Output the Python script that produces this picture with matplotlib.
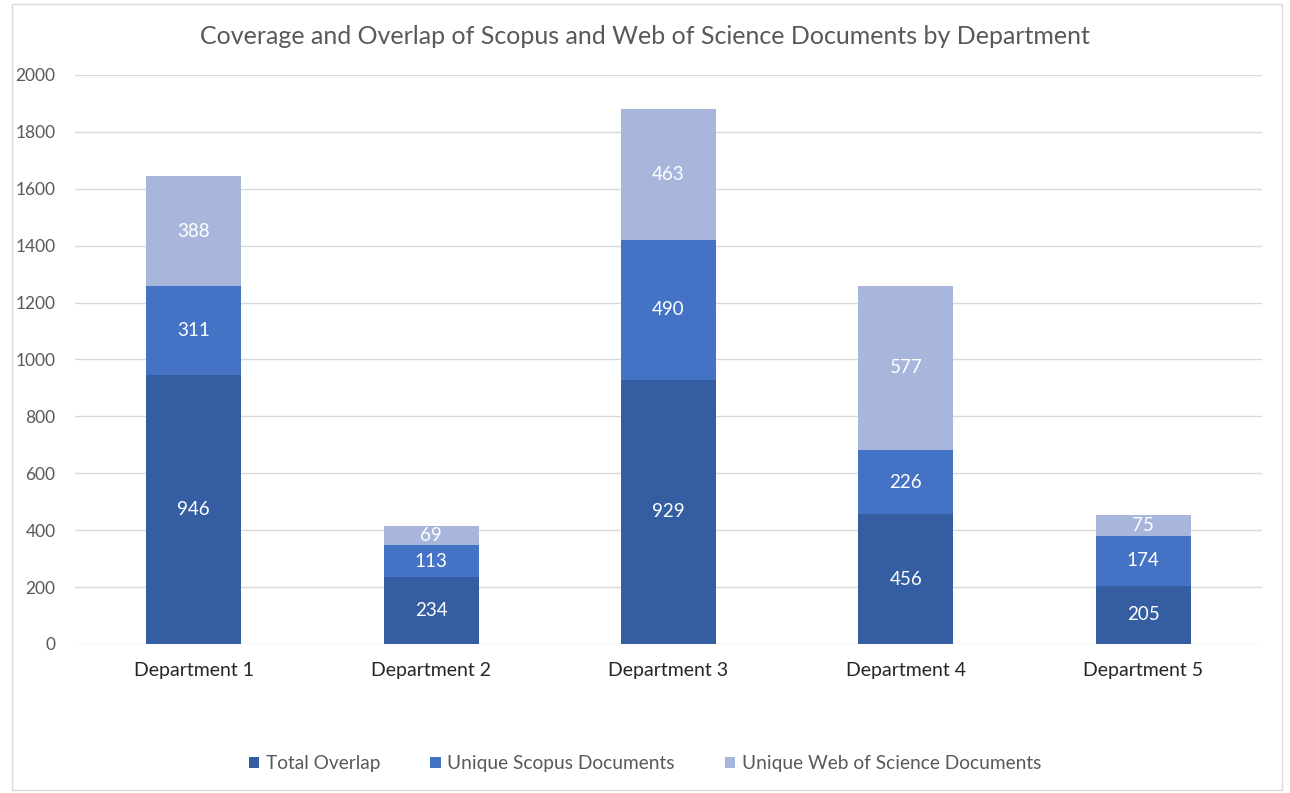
import matplotlib
matplotlib.use("Agg")
import matplotlib.pyplot as plt
from matplotlib.patches import Rectangle
import numpy as np

departments = ["Department 1", "Department 2", "Department 3", "Department 4", "Department 5"]
total_overlap = [946, 234, 929, 456, 205]
unique_scopus = [311, 113, 490, 226, 174]
unique_wos = [388, 69, 463, 577, 75]
series_names = ["Total Overlap", "Unique Scopus Documents", "Unique Web of Science Documents"]
colors = ["#355EA2", "#4472C4", "#A8B6DB"]

plt.rcParams['font.family'] = ['Lato', 'DejaVu Sans']

fig = plt.figure(figsize=(12.9, 7.93), dpi=100)
ax = fig.add_axes([75/1290, 1-644/793, (1262-75)/1290, (644-75)/793])

# outer chart border
fig.patches.append(Rectangle((12/1290, 3/793), (1282-12)/1290, (789-3)/793,
                             transform=fig.transFigure, fill=False,
                             edgecolor="#D9D9D9", linewidth=1))

x = np.arange(len(departments))
w = 0.4
bottom = np.zeros(len(departments))
for vals, name, c in zip([total_overlap, unique_scopus, unique_wos], series_names, colors):
    bars = ax.bar(x, vals, w, bottom=bottom, color=c, label=name, zorder=3)
    for xi, b, v in zip(x, bottom, vals):
        ax.text(xi, b + v/2, str(v), ha="center", va="center", color="white",
                fontsize=13.5, zorder=4)
    bottom += np.array(vals)

ax.set_xlim(-0.5, len(departments) - 0.5)
ax.set_ylim(0, 2000)
ax.set_yticks(range(0, 2001, 200))
ax.set_xticks(x)
ax.set_xticklabels(departments)
ax.yaxis.grid(True, color="#D9D9D9", linewidth=1, zorder=0)
for s in ax.spines.values():
    s.set_visible(False)
ax.tick_params(axis="both", length=0, colors="#595959", labelsize=12.5)
ax.tick_params(axis="x", labelcolor="#262626", labelsize=14, pad=13)
ax.tick_params(axis="y", pad=14)

fig.text(0.5, 1-37/793, "Coverage and Overlap of Scopus and Web of Science Documents by Department",
         ha="center", va="center", fontsize=18, color="#595959")

fig.legend(loc="center", bbox_to_anchor=(0.5, 1-764/793), ncol=3, frameon=False,
           fontsize=13.8, handlelength=0.55, handleheight=0.55, handletextpad=0.35,
           columnspacing=2.6, labelcolor="#595959")

fig.savefig("out.png", dpi=100)
